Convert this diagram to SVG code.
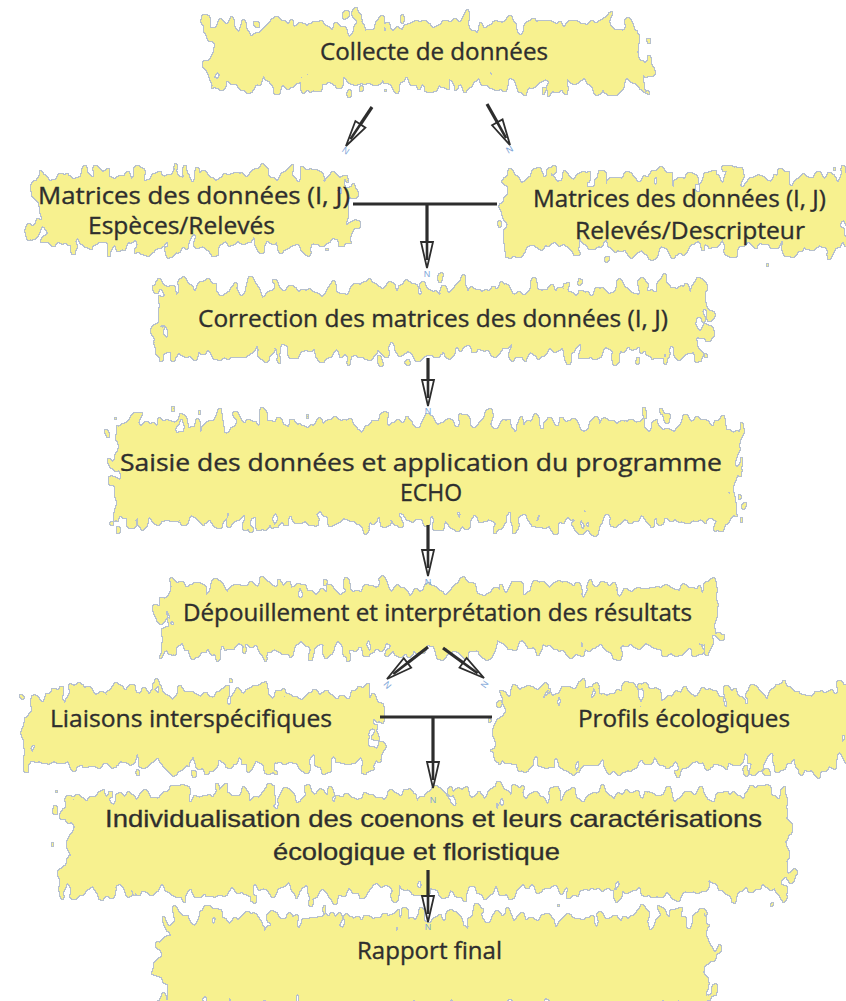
<svg xmlns="http://www.w3.org/2000/svg" width="846" height="1001" viewBox="0 0 846 1001">
<style>
.blob{fill:#f7f18f;filter:url(#torn);}
.t{font-family:"Open Sans","Liberation Sans",sans-serif;font-size:24px;fill:#2e2e2e;stroke:#2e2e2e;stroke-width:0.35;}
.ta{font-family:"Liberation Sans",Arial,sans-serif;font-size:24px;fill:#2e2e2e;stroke:#2e2e2e;stroke-width:0.3;}
.c{stroke:#2d2d2d;stroke-width:3.2;fill:none;}
.ca{stroke:#2d2d2d;stroke-width:3.2;fill:none;marker-end:url(#ah);}
.n{font-family:"Liberation Sans",sans-serif;font-size:9px;fill:#7ea6d8;text-anchor:middle;}
</style>
<defs>
<filter id="torn" x="-12%" y="-50%" width="124%" height="200%" color-interpolation-filters="sRGB">
<feTurbulence type="fractalNoise" baseFrequency="0.085 0.05" numOctaves="2" seed="11" result="noise"/>
<feDisplacementMap in="SourceGraphic" in2="noise" scale="44" xChannelSelector="R" yChannelSelector="G" result="disp"/>
<feMorphology in="disp" operator="dilate" radius="1.2" result="dil"/>
<feFlood flood-color="#a9b5c4" flood-opacity="0.85"/>
<feComposite in2="dil" operator="in" result="edge"/>
<feMerge><feMergeNode in="edge"/><feMergeNode in="disp"/></feMerge>
</filter>
<marker id="ah" viewBox="-22 -8 30 16" markerWidth="30" markerHeight="16" refX="0" refY="0" orient="auto" markerUnits="userSpaceOnUse">
<path d="M6,0 L-20,-6 L-20,6 Z" fill="#ffffff" stroke="#2d2d2d" stroke-width="1.8" stroke-linejoin="miter"/>
<path d="M-21,0 L-2,0" stroke="#2d2d2d" stroke-width="2.6"/>
</marker>
</defs>
<rect width="846" height="1001" fill="#ffffff"/>

<g id="n1"><rect class="blob" x="208" y="24" width="437" height="62"/>
<text class="t" x="434" y="60" text-anchor="middle" textLength="228" lengthAdjust="spacingAndGlyphs">Collecte de données</text></g>

<g id="n2a"><rect class="blob" x="37" y="174" width="311" height="72"/>
<text class="t" x="38" y="204" textLength="312" lengthAdjust="spacingAndGlyphs">Matrices des données (I, J)</text>
<text class="t" x="88" y="234" textLength="187" lengthAdjust="spacingAndGlyphs">Espèces/Relevés</text></g>

<g id="n2b"><rect class="blob" x="503" y="176" width="350" height="74"/>
<text class="t" x="533" y="207" textLength="293" lengthAdjust="spacingAndGlyphs">Matrices des données (I, J)</text>
<text class="t" x="575" y="239" textLength="230" lengthAdjust="spacingAndGlyphs">Relevés/Descripteur</text></g>

<g id="n3"><rect class="blob" x="158" y="287" width="547" height="68"/>
<text class="t" x="198" y="327" textLength="470" lengthAdjust="spacingAndGlyphs">Correction des matrices des données (I, J)</text></g>

<g id="n4"><rect class="blob" x="115" y="422" width="625" height="100"/>
<text class="t" x="120" y="471" textLength="602" lengthAdjust="spacingAndGlyphs">Saisie des données et application du programme</text>
<text class="t" x="400" y="501" textLength="62" lengthAdjust="spacingAndGlyphs">ECHO</text></g>

<g id="n5"><rect class="blob" x="163" y="587" width="550" height="63"/>
<text class="t" x="183" y="621" textLength="509" lengthAdjust="spacingAndGlyphs">Dépouillement et interprétation des résultats</text></g>

<g id="n6a"><rect class="blob" x="25" y="692" width="352" height="74"/>
<text class="t" x="50" y="727" textLength="282" lengthAdjust="spacingAndGlyphs">Liaisons interspécifiques</text></g>

<g id="n6b"><rect class="blob" x="498" y="692" width="354" height="74"/>
<text class="t" x="578" y="727" textLength="212" lengthAdjust="spacingAndGlyphs">Profils écologiques</text></g>

<g id="n7"><rect class="blob" x="65" y="794" width="722" height="98"/>
<text class="ta" x="105" y="827" textLength="657" lengthAdjust="spacingAndGlyphs">Individualisation des coenons et leurs caractérisations</text>
<text class="ta" x="273" y="860" textLength="287" lengthAdjust="spacingAndGlyphs">écologique et floristique</text></g>

<g id="n8"><rect class="blob" x="161" y="917" width="548" height="90"/>
<text class="t" x="357" y="959" textLength="145" lengthAdjust="spacingAndGlyphs">Rapport final</text></g>

<g id="connectors">
<line class="ca" x1="372" y1="107" x2="349.3" y2="141"/>
<line class="ca" x1="487" y1="104" x2="507.1" y2="139.8"/>
<line class="c" x1="353" y1="204" x2="497" y2="204"/>
<line class="ca" x1="427" y1="204" x2="427" y2="262"/>
<line class="ca" x1="428" y1="358" x2="428" y2="400"/>
<line class="ca" x1="428" y1="525" x2="428" y2="570"/>
<line class="ca" x1="428" y1="647" x2="391.7" y2="675.3"/>
<line class="ca" x1="443" y1="648" x2="479.2" y2="674.5"/>
<line class="c" x1="380" y1="717" x2="492" y2="717"/>
<line class="ca" x1="433" y1="717" x2="433" y2="782"/>
<line class="ca" x1="428" y1="870" x2="428" y2="916"/>
</g>
<g id="marks">
<text class="n" transform="translate(344,153) rotate(35)">N</text>
<text class="n" transform="translate(511,152) rotate(-30)">N</text>
<text class="n" x="427" y="277">N</text>
<text class="n" x="428" y="414">N</text>
<text class="n" x="428" y="585">N</text>
<text class="n" transform="translate(385,687) rotate(50)">N</text>
<text class="n" transform="translate(487,686) rotate(-55)">N</text>
<text class="n" x="433" y="803">N</text>
<text class="n" x="428" y="930">N</text>
</g>
</svg>
